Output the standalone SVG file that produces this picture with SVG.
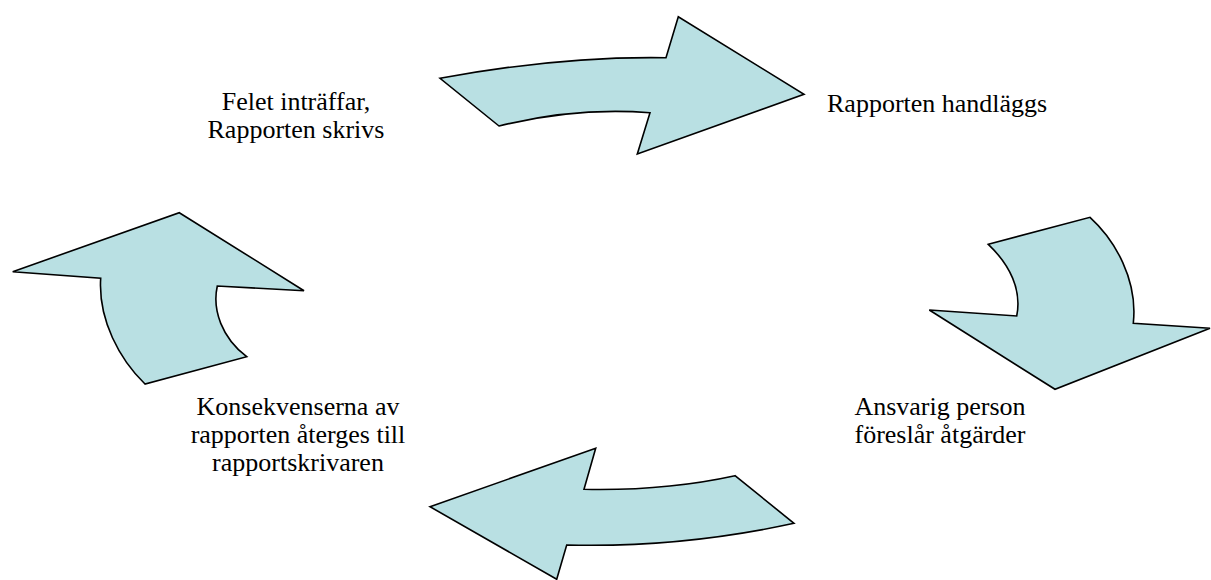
<svg xmlns="http://www.w3.org/2000/svg" width="1211" height="580" viewBox="0 0 1211 580">
<style>
.arrow{fill:#B9E0E3;stroke:#000;stroke-width:1.6;stroke-linejoin:miter}
.lbl{font-family:"Liberation Serif","Times New Roman",serif;font-size:26px;fill:#000}
.c{text-anchor:middle}
</style>
<rect width="1211" height="580" fill="#fff"/>
<g id="connectors">
<path id="arrow-top" class="arrow" d="M440,78.3 Q560,56 666,57.7 L678.3,16.7 L804,94.3 L637.3,154 L650,112.7 Q575,107 499,126 Z"/>
<path id="arrow-right" class="arrow" d="M988.3,244.3 L1090,217.3 C1115,240 1138,280 1133.3,323.3 L1210,328.3 L1055,389.3 L929.3,310 L1016.7,316 C1022,290 1010,265 988.3,244.3 Z"/>
<path id="arrow-bottom" class="arrow" d="M430,506.7 L595.7,448.3 L584,489.3 Q665,491 735,475.7 L794,523.3 Q680,548 566.7,545 L556.7,579.3 Z"/>
<path id="arrow-left" class="arrow" d="M179.3,212.7 L304,290.7 L217.3,286 C212,310 222,338 246.7,356.7 L145,384 C120,360 98,320 100.7,278.3 L12.7,271.7 Z"/>
</g>
<g id="node-1"><text class="lbl c" x="296" y="110">Felet inträffar,</text><text class="lbl c" x="296" y="138">Rapporten skrivs</text></g>
<g id="node-2"><text class="lbl" x="827" y="112">Rapporten handläggs</text></g>
<g id="node-3"><text class="lbl c" x="940" y="415">Ansvarig person</text><text class="lbl c" x="940" y="443">föreslår åtgärder</text></g>
<g id="node-4"><text class="lbl c" x="298" y="415">Konsekvenserna av</text><text class="lbl c" x="298" y="443">rapporten återges till</text><text class="lbl c" x="298" y="471">rapportskrivaren</text></g>
</svg>
